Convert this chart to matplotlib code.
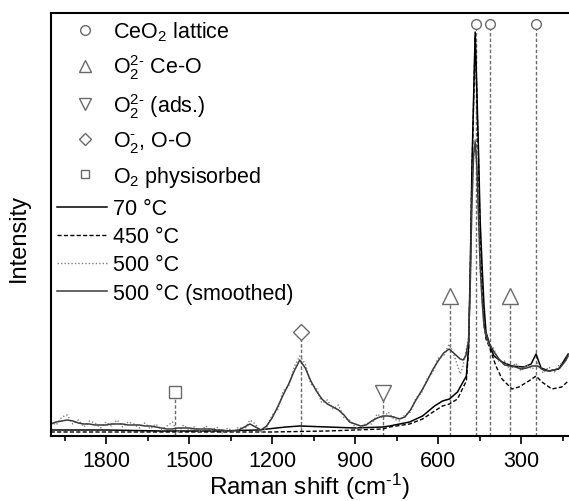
import matplotlib
matplotlib.use('Agg')
import matplotlib.pyplot as plt
from matplotlib.lines import Line2D
from matplotlib.ticker import MultipleLocator

plt.rcParams['font.family'] = ['Liberation Sans', 'DejaVu Sans']
plt.rcParams['mathtext.fontset'] = 'custom'
plt.rcParams['mathtext.rm'] = 'Liberation Sans'
plt.rcParams['mathtext.it'] = 'Liberation Sans'
plt.rcParams['mathtext.default'] = 'regular'

# 70 C spectrum
wn_70 = [2000, 1800, 1600, 1400, 1250, 1150, 1100, 1000, 900, 800, 775, 703, 656, 613,
         584, 559, 530, 498, 490, 484, 478, 472, 466, 460, 454, 448, 441, 434, 427,
         410, 398, 369, 333, 290, 264, 246, 228, 199, 164, 130]
int_70 = [6, 6, 5, 5, 6, 9, 10, 9, 8, 9, 10, 14, 20, 30,
          35, 37, 44, 60, 88, 165, 265, 335, 404, 345, 285, 215, 170, 130, 104,
          88, 80, 74, 70, 69, 72, 82, 68, 65, 67, 82]

# 450 C spectrum
wn_450 = [2000, 1800, 1600, 1400, 1200, 1000, 900, 800, 775, 703, 656, 613, 584, 559,
          530, 498, 490, 484, 478, 472, 466, 460, 454, 448, 441, 434, 427, 416, 391,
          369, 333, 308, 272, 246, 225, 189, 153, 130]
int_450 = [4, 4, 4, 4, 4, 5, 6, 7, 9, 12, 17, 25, 30, 32,
           37, 55, 85, 160, 260, 330, 400, 340, 275, 200, 150, 115, 97, 90, 70,
           57, 47, 49, 55, 60, 54, 47, 49, 55]

# 500 C spectrum, raw and smoothed
wn_500 = [2000, 1980, 1960, 1940, 1920, 1900, 1880, 1860, 1840, 1820, 1800, 1780,
          1760, 1740, 1720, 1700, 1680, 1660, 1640, 1620, 1600, 1580, 1560, 1540,
          1520, 1500, 1480, 1460, 1440, 1420, 1400, 1380, 1360, 1340, 1320, 1300,
          1280, 1260, 1240, 1220, 1200, 1180, 1160, 1140, 1120, 1100, 1080, 1060,
          1040, 1020, 1000, 980, 960, 940, 920, 900, 880, 860, 840, 820, 800, 780,
          760, 740, 720, 700, 680, 660, 640, 620, 600, 580, 560, 540, 520, 510,
          500, 490, 484, 478, 472, 466, 460, 454, 448, 441, 434, 427, 416, 400,
          380, 360, 340, 320, 300, 280, 260, 240, 220, 200, 180, 160, 140, 130]
int_500 = [14, 11, 19, 21, 12, 16, 9, 15, 13, 8, 14, 10,
           16, 9, 14, 12, 8, 13, 7, 12, 6, 10, 14, 3,
           11, 6, 9, 4, 10, 5, 9, 3, 8, 4, 9, 6,
           16, 12, 3, 8, 21, 26, 45, 50, 69, 80, 72, 52,
           48, 33, 36, 27, 31, 18, 16, 9, 7, 13, 12, 22, 18, 24,
           17, 15, 21, 24, 38, 43, 57, 63, 78, 80, 92, 79, 62, 70,
           84, 98, 146, 234, 277, 297, 266, 224, 166, 138, 107, 103, 90, 88,
           74, 75, 66, 73, 65, 71, 67, 73, 63, 69, 64, 72, 74, 82]
int_500_smooth = [12, 14, 15, 16, 15, 13, 12, 12, 11, 11, 11, 12,
                  12, 12, 11, 11, 11, 10, 10, 9, 8, 7, 7, 8,
                  8, 8, 7, 7, 7, 7, 6, 6, 5, 5, 6, 9,
                  12, 9, 6, 10, 18, 29, 41, 52, 65, 76, 68, 55,
                  45, 37, 32, 29, 26, 21, 14, 12, 10, 11, 15, 18, 20, 20,
                  19, 17, 19, 26, 36, 45, 55, 66, 75, 83, 87, 82, 77, 76,
                  80, 95, 150, 230, 280, 294, 270, 220, 170, 135, 110, 100, 93, 85,
                  77, 71, 70, 69, 67, 68, 70, 70, 66, 65, 66, 68, 75, 80]

# band assignments: position and marker height
lattice_pos = [463, 414, 247]
lattice_h = [412, 412, 412]
peroxide_pos = [557, 340]
peroxide_h = [140, 140]
ads_pos = [800]
ads_h = [43]
superox_pos = [1095]
superox_h = [104]
phys_pos = [1550]
phys_h = [44]

fig = plt.figure(figsize=(5.69, 5.02), dpi=100)
ax = fig.add_axes([0.0891, 0.1295, 0.9109, 0.8426])

grey = '#6a6a6a'
ax.plot(wn_70, int_70, color='black', lw=1.1)
ax.plot(wn_450, int_450, color='black', lw=1.0, ls=(0, (3, 1.6)))
ax.plot(wn_500, int_500, color='#808080', lw=1.0, ls=(0, (1, 1.5)))
ax.plot(wn_500, int_500_smooth, color='#3a3a3a', lw=1.1)

bands = [
    (lattice_pos, lattice_h, 'o', 7),
    (peroxide_pos, peroxide_h, '^', 11),
    (ads_pos, ads_h, 'v', 11),
    (superox_pos, superox_h, 'D', 8),
    (phys_pos, phys_h, 's', 8),
]
for pos, h, m, ms in bands:
    ax.vlines(pos, 0, h, colors=grey, linestyles=(0, (2.5, 1.5)), lw=1.0, zorder=1)
    ax.plot(pos, h, ls='none', marker=m, ms=ms, mfc='white', mec=grey, mew=1.0, zorder=3)

ax.set_xlim(2000, 127)
ax.set_ylim(0, 423)
ax.set_yticks([])
ax.xaxis.set_major_locator(MultipleLocator(300))
ax.xaxis.set_minor_locator(MultipleLocator(150))
ax.tick_params(axis='x', which='major', direction='out', length=6, width=1.2,
               labelsize=15.5, pad=4)
ax.tick_params(axis='x', which='minor', direction='out', length=3.5, width=1.2)
ax.spines['right'].set_visible(False)
for s in ['top', 'left', 'bottom']:
    ax.spines[s].set_linewidth(1.5)

ax.set_xlabel(r'Raman shift (cm$^{\text{-}1}$)', fontsize=17.5, labelpad=0)
ax.set_ylabel('Intensity', fontsize=17)
ax.yaxis.set_label_coords(-0.04, 0.47)

fs = 15.5
mk = dict(ls='none', mfc='white', mec=grey, mew=1.0)
h1 = [Line2D([], [], marker='o', ms=7, **mk),
      Line2D([], [], marker='^', ms=8, **mk),
      Line2D([], [], marker='v', ms=8, **mk),
      Line2D([], [], marker='D', ms=6, **mk),
      Line2D([], [], marker='s', ms=6, **mk)]
l1 = [r'CeO$_2$ lattice', r'O$_2^{\text{2-}}$ Ce-O', r'O$_2^{\text{2-}}$ (ads.)',
      r'O$_2^{\text{-}}$, O-O', r'O$_2$ physisorbed']
leg1 = ax.legend(h1, l1, loc='upper left', bbox_to_anchor=(0.0455, 0.985),
                 frameon=False, fontsize=fs, handlelength=1.0, handletextpad=0.8,
                 labelspacing=0.44, borderpad=0, borderaxespad=0)
ax.add_artist(leg1)

h2 = [Line2D([], [], color='black', lw=1.1),
      Line2D([], [], color='black', lw=1.0, ls=(0, (3, 1.6))),
      Line2D([], [], color='#808080', lw=1.0, ls=(0, (1, 1.5))),
      Line2D([], [], color='#3a3a3a', lw=1.1)]
l2 = ['70 °C', '450 °C', '500 °C', '500 °C (smoothed)']
ax.legend(h2, l2, loc='upper left', bbox_to_anchor=(0.012, 0.562),
          frameon=False, fontsize=fs, handlelength=2.33, handletextpad=0.28,
          labelspacing=0.33, borderpad=0, borderaxespad=0)

fig.savefig('out.png', dpi=100)
